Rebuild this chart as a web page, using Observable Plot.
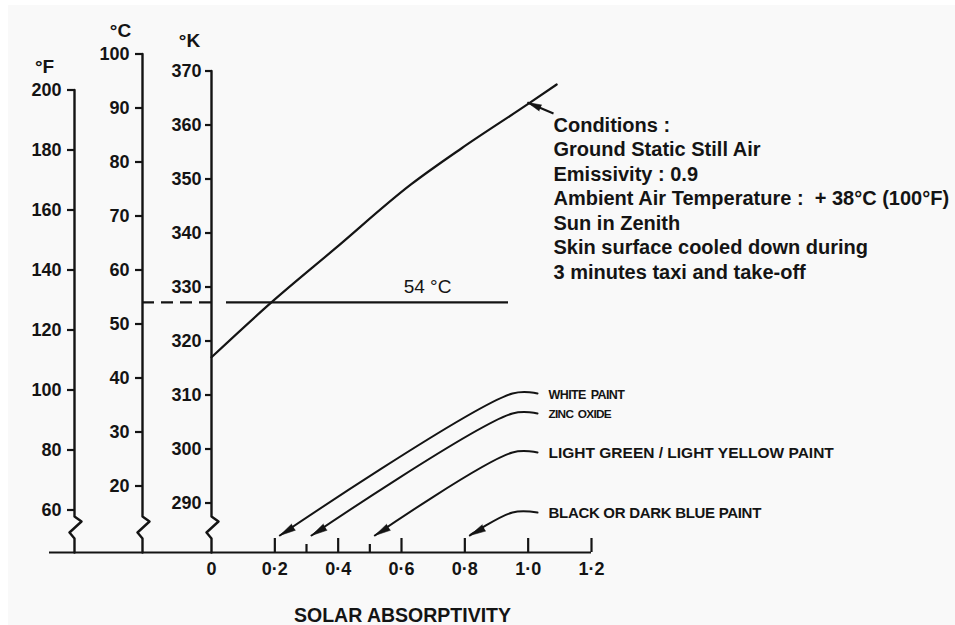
<!DOCTYPE html>
<html><head><meta charset="utf-8">
<script src="https://cdn.jsdelivr.net/npm/d3@7"></script>
<script src="https://cdn.jsdelivr.net/npm/@observablehq/plot@0.6"></script>
<style>
body{margin:0;background:#fff;}
#bg{position:absolute;left:8px;top:5px;width:947px;height:620px;background:#f9f9f9;}
#chart{position:absolute;left:0;top:0;}
</style></head><body><div id="bg"></div><div id="chart"></div>
<script>
// ---------- data ----------
const absorptivity = [0, 0.19, 0.39, 0.63, 0.79, 1.0, 1.09];
const skinTempK   = [317.0, 327.2, 337.1, 349.0, 355.7, 363.9, 367.5];
const limitTempC = 54;
const paintNames = ["WHITE PAINT", "ZINC OXIDE", "LIGHT GREEN / LIGHT YELLOW PAINT", "BLACK OR DARK BLUE PAINT"];
const paintAbsorptivity = [0.2, 0.3, 0.5, 0.8];
const xTicks = [0, 0.2, 0.4, 0.6, 0.8, 1.0, 1.2];
const xMinorTicks = [0.3, 0.5];
const fTicks = [60, 80, 100, 120, 140, 160, 180, 200];
const cTicks = [20, 30, 40, 50, 60, 70, 80, 90, 100];
const kTicks = [290, 300, 310, 320, 330, 340, 350, 360, 370];
const conditions = ["Conditions :", "Ground Static Still Air", "Emissivity : 0.9",
  "Ambient Air Temperature :  + 38°C (100°F)", "Sun in Zenith",
  "Skin surface cooled down during", "3 minutes taxi and take-off"];
const xTitle = "SOLAR ABSORPTIVITY";

// ---------- layout ----------
const W = 955, H = 625;
const PX_PER_X = 316.67, X0PX = 211;
const PX_PER_C = 5.4, C100PX = 53.5;
const X = px => (px - X0PX) / PX_PER_X;
const Y = py => 100 - (py - C100PX) / PX_PER_C;
const fToC = f => (f - 32) / 1.8;
const kToC = k => k - 273.15;
const ink = "#141414";
const font = "'Liberation Sans', Arial, Helvetica, sans-serif";

const axes = [
  {unit: "°F", px: 74,  ticks: fTicks, toC: fToC, tick: 7, gap: 13, lab: [44, 66]},
  {unit: "°C", px: 142, ticks: cTicks, toC: c => c, tick: 7, gap: 13, lab: [120, 30]},
  {unit: "°K", px: 211, ticks: kTicks, toC: kToC, tick: 6, gap: 10, lab: [189, 40]}
];
const basePy = 552;
const baseC = Y(basePy);

const axisPts = axes.flatMap(a => {
  const top = a.toC(d3.max(a.ticks));
  return [[0, null], [0, 516], [7, 521], [-5, 532], [0, 538], [0, basePy]]
    .map(([dxp, py]) => ({unit: a.unit, x: X(a.px + dxp), y: py === null ? top : Y(py)}));
});
const axisTicks = axes.flatMap(a => a.ticks.map(t => ({x1: X(a.px - a.tick), x2: X(a.px), y: a.toC(t), label: String(t), lx: X(a.px - a.gap)})));

const curve = absorptivity.map((a, i) => ({a, c: kToC(skinTempK[i])}));

const rowPy = [393, 413, 452, 512];
const labelSize = [12.5, 11.8, 15.5, 15];
const labelSpacing = [-0.6, -0.7, 0, -0.3];
const labelWordSpacing = [2, 2, 0, 0];
const paints = paintNames.map((name, i) => {
  const tipPx = X0PX + paintAbsorptivity[i] * PX_PER_X + 5, tipPy = 535;
  const kneePx = 512, startPx = 537;
  const ang = Math.atan2(tipPx - kneePx, -(tipPy - rowPy[i])) * 180 / Math.PI;
  return {name, i, ang, size: labelSize[i],
    pts: [[startPx, rowPy[i]], [kneePx, rowPy[i]], [tipPx, tipPy]].map(([px, py]) => ({i, x: X(px), y: Y(py)})),
    tip: {x: X(tipPx), y: Y(tipPy)}, label: {x: X(548), y: Y(rowPy[i] + 1)}};
});
const fmtX = d => d === 0 ? "0" : d3.format(".1f")(d).replace(".", "·");

const condTip = {x: X(527), y: Y(102)}, condTail = {x: X(553), y: Y(113)};
const condAng = Math.atan2(527 - 553, -(102 - 113)) * 180 / Math.PI;

const chart = Plot.plot({
  width: W, height: H, margin: 0,
  x: {domain: [X(0), X(W)], axis: null},
  y: {domain: [Y(H), Y(0)], axis: null},
  style: {background: "transparent", fontFamily: font, color: ink},
  marks: [
    // vertical temperature axes with breaks
    Plot.line(axisPts, {x: "x", y: "y", z: "unit", stroke: ink, strokeWidth: 2.4}),
    Plot.ruleY(axisTicks, {x1: "x1", x2: "x2", y: "y", stroke: ink, strokeWidth: 2.2}),
    Plot.text(axisTicks, {x: "lx", y: "y", text: "label", textAnchor: "end", fontSize: 18, fontWeight: "bold", fill: ink}),
    Plot.text(axes, {x: a => X(a.lab[0]), y: a => Y(a.lab[1]), text: "unit", fontSize: 19, fontWeight: "bold", fill: ink}),
    // x axis
    Plot.ruleY([baseC], {x1: X(49), x2: d3.max(xTicks), stroke: ink, strokeWidth: 2.2}),
    Plot.ruleX(xTicks.filter(d => d > 0), {x: d => d, y1: baseC, y2: baseC + 14 / PX_PER_C, stroke: ink, strokeWidth: 2.2}),
    Plot.ruleX(xMinorTicks, {x: d => d, y1: baseC, y2: baseC + 8 / PX_PER_C, stroke: ink, strokeWidth: 2.2}),
    Plot.text(xTicks, {x: d => d, y: Y(569), text: fmtX, fontSize: 18, fontWeight: "bold", fill: ink}),
    Plot.text([xTitle], {x: X(402), y: Y(615), text: d => d, fontSize: 19.5, fontWeight: "bold", fill: ink}),
    // 54 °C limit
    Plot.ruleY([limitTempC], {x1: X(142), x2: 0, stroke: ink, strokeWidth: 2.2, strokeDasharray: "12,7"}),
    Plot.ruleY([limitTempC], {x1: X(226), x2: X(508), stroke: ink, strokeWidth: 2.2}),
    Plot.text([limitTempC], {x: X(427), y: d => d, dy: -15, text: d => `${d} °C`, fontSize: 19, fill: ink}),
    // skin temperature curve
    Plot.line(curve, {x: "a", y: "c", curve: "monotone-x", stroke: ink, strokeWidth: 2.2}),
    // conditions annotation
    Plot.link([0], {x1: condTip.x, y1: condTip.y, x2: condTail.x, y2: condTail.y, stroke: ink, strokeWidth: 2}),
    Plot.vector([0], {x: condTip.x, y: condTip.y, rotate: condAng, length: 14, r: 3.2, shape: "spike", anchor: "end", fill: ink, stroke: ink, strokeWidth: 0.5}),
    Plot.text(conditions, {x: X(553), y: (d, i) => Y(125 + i * 24.5), text: d => d, textAnchor: "start", fontSize: 20, fontWeight: "bold", fill: ink}),
    // paint leaders
    ...paints.map(p => Plot.line(p.pts, {x: "x", y: "y", curve: "catmull-rom", stroke: ink, strokeWidth: 2})),
    Plot.vector(paints, {x: p => p.tip.x, y: p => p.tip.y, rotate: "ang", length: 16, r: 3.6, shape: "spike", anchor: "end", fill: ink, stroke: ink, strokeWidth: 0.5}),
    Plot.text(paints, {x: p => p.label.x, y: p => p.label.y, text: "name", textAnchor: "start", fontSize: "size", fontWeight: "bold", fill: ink})
  ]
});
document.getElementById("chart").appendChild(chart);
d3.select(chart).selectAll("text").each(function() {
  const i = paintNames.indexOf(this.textContent);
  if (i >= 0) d3.select(this).style("letter-spacing", labelSpacing[i] + "px").style("word-spacing", labelWordSpacing[i] + "px");
});
</script></body></html>
